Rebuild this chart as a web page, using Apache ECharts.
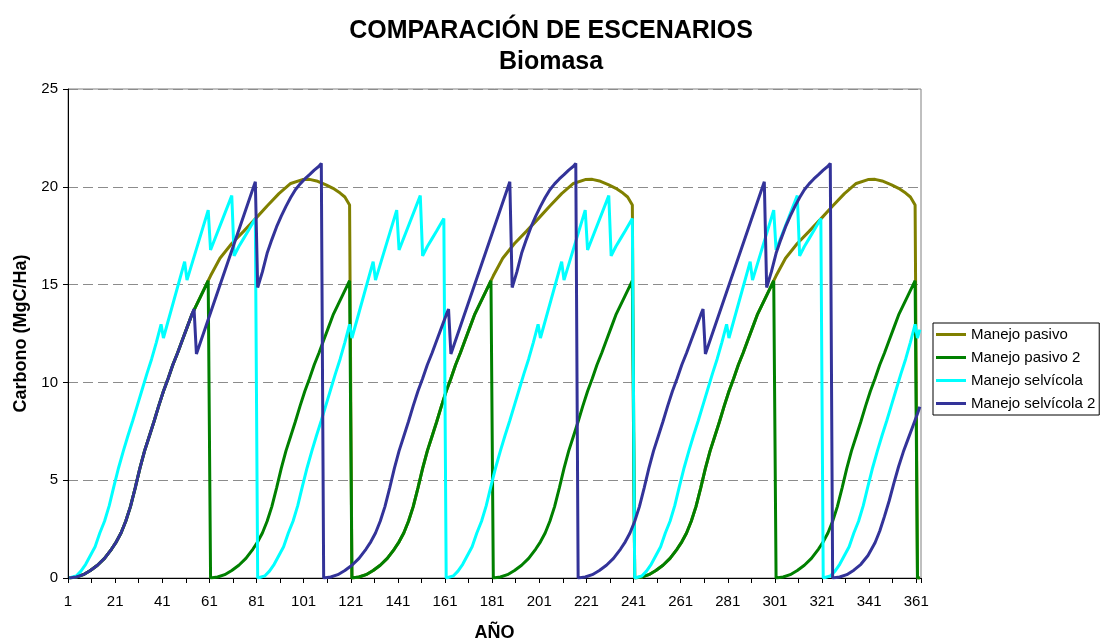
<!DOCTYPE html>
<html>
<head>
<meta charset="utf-8">
<script src="https://cdn.jsdelivr.net/npm/echarts@6/dist/echarts.min.js"></script>
<style>
  html, body { margin: 0; padding: 0; background: #fff; }
  #chart { width: 1102px; height: 640px; }
</style>
</head>
<body>
<div id="chart"></div>
<script>
const FONT = '"Liberation Sans", Arial, sans-serif';

// [año, carbono]
const pasivo = [
  [1,0],[4,0.05],[7,0.17],[10,0.38],[13,0.65],[16,1.0],[19,1.48],[21,1.85],[23,2.3],[25,2.9],[27,3.65],[29,4.6],[31,5.6],[33,6.5],[35,7.25],[37,8.0],[39,8.8],[41,9.55],[43,10.2],[45,10.9],[47,11.5],[49,12.15],[51,12.8],[53,13.45],[55,13.95],[57,14.45],[59,14.95],[60,15.2],
  [61,15.45],[65,16.35],[70,17.1],[75,17.72],[80,18.36],[85,19.02],[90,19.65],[95,20.17],[100,20.37],[103,20.38],[106,20.3],[110,20.1],[113,19.92],[116,19.68],[118,19.48],[120,19.07],
  [121,0],[124,0.05],[127,0.17],[130,0.38],[133,0.65],[136,1.0],[139,1.48],[141,1.85],[143,2.3],[145,2.9],[147,3.65],[149,4.6],[151,5.6],[153,6.5],[155,7.25],[157,8.0],[159,8.8],[161,9.55],[163,10.2],[165,10.9],[167,11.5],[169,12.15],[171,12.8],[173,13.45],[175,13.95],[177,14.45],[179,14.95],[180,15.2],
  [181,15.45],[185,16.35],[190,17.1],[195,17.72],[200,18.36],[205,19.02],[210,19.65],[215,20.17],[220,20.37],[223,20.38],[226,20.3],[230,20.1],[233,19.92],[236,19.68],[238,19.48],[240,19.07],
  [241,0],[244,0.05],[247,0.17],[250,0.38],[253,0.65],[256,1.0],[259,1.48],[261,1.85],[263,2.3],[265,2.9],[267,3.65],[269,4.6],[271,5.6],[273,6.5],[275,7.25],[277,8.0],[279,8.8],[281,9.55],[283,10.2],[285,10.9],[287,11.5],[289,12.15],[291,12.8],[293,13.45],[295,13.95],[297,14.45],[299,14.95],[300,15.2],
  [301,15.45],[305,16.35],[310,17.1],[315,17.72],[320,18.36],[325,19.02],[330,19.65],[335,20.17],[340,20.37],[343,20.38],[346,20.3],[350,20.1],[353,19.92],[356,19.68],[358,19.48],[360,19.07],
  [361,0],[362,0]
];

const pasivo2 = [
  [1,0],[4,0.05],[7,0.17],[10,0.38],[13,0.65],[16,1.0],[19,1.48],[21,1.85],[23,2.3],[25,2.9],[27,3.65],[29,4.6],[31,5.6],[33,6.5],[35,7.25],[37,8.0],[39,8.8],[41,9.55],[43,10.2],[45,10.9],[47,11.5],[49,12.15],[51,12.8],[53,13.45],[55,13.95],[57,14.45],[59,14.95],[60,15.2],
  [61,0],[64,0.05],[67,0.17],[70,0.38],[73,0.65],[76,1.0],[79,1.48],[81,1.85],[83,2.3],[85,2.9],[87,3.65],[89,4.6],[91,5.6],[93,6.5],[95,7.25],[97,8.0],[99,8.8],[101,9.55],[103,10.2],[105,10.9],[107,11.5],[109,12.15],[111,12.8],[113,13.45],[115,13.95],[117,14.45],[119,14.95],[120,15.2],
  [121,0],[124,0.05],[127,0.17],[130,0.38],[133,0.65],[136,1.0],[139,1.48],[141,1.85],[143,2.3],[145,2.9],[147,3.65],[149,4.6],[151,5.6],[153,6.5],[155,7.25],[157,8.0],[159,8.8],[161,9.55],[163,10.2],[165,10.9],[167,11.5],[169,12.15],[171,12.8],[173,13.45],[175,13.95],[177,14.45],[179,14.95],[180,15.2],
  [181,0],[184,0.05],[187,0.17],[190,0.38],[193,0.65],[196,1.0],[199,1.48],[201,1.85],[203,2.3],[205,2.9],[207,3.65],[209,4.6],[211,5.6],[213,6.5],[215,7.25],[217,8.0],[219,8.8],[221,9.55],[223,10.2],[225,10.9],[227,11.5],[229,12.15],[231,12.8],[233,13.45],[235,13.95],[237,14.45],[239,14.95],[240,15.2],
  [241,0],[244,0.05],[247,0.17],[250,0.38],[253,0.65],[256,1.0],[259,1.48],[261,1.85],[263,2.3],[265,2.9],[267,3.65],[269,4.6],[271,5.6],[273,6.5],[275,7.25],[277,8.0],[279,8.8],[281,9.55],[283,10.2],[285,10.9],[287,11.5],[289,12.15],[291,12.8],[293,13.45],[295,13.95],[297,14.45],[299,14.95],[300,15.2],
  [301,0],[304,0.05],[307,0.17],[310,0.38],[313,0.65],[316,1.0],[319,1.48],[321,1.85],[323,2.3],[325,2.9],[327,3.65],[329,4.6],[331,5.6],[333,6.5],[335,7.25],[337,8.0],[339,8.8],[341,9.55],[343,10.2],[345,10.9],[347,11.5],[349,12.15],[351,12.8],[353,13.45],[355,13.95],[357,14.45],[359,14.95],[360,15.2],
  [361,0],[362,0]
];

const selvicola = [
  [1,0],[4,0.1],[6,0.35],[8,0.7],[10,1.15],[12,1.6],[14,2.3],[16,2.9],[18,3.7],[20,4.7],[22,5.65],[24,6.5],[26,7.3],[28,8.05],[30,8.85],[32,9.65],[34,10.45],[36,11.2],[38,12.05],[40,12.97],[41,12.27],[50,16.17],[51,15.23],[60,18.81],[61,16.77],[70,19.55],[71,16.47],[73,16.95],[75,17.35],[77,17.75],[80,18.38],
  [81,0],[84,0.1],[86,0.35],[88,0.7],[90,1.15],[92,1.6],[94,2.3],[96,2.9],[98,3.7],[100,4.7],[102,5.65],[104,6.5],[106,7.3],[108,8.05],[110,8.85],[112,9.65],[114,10.45],[116,11.2],[118,12.05],[120,12.97],[121,12.27],[130,16.17],[131,15.23],[140,18.81],[141,16.77],[150,19.55],[151,16.47],[153,16.95],[155,17.35],[157,17.75],[160,18.38],
  [161,0],[164,0.1],[166,0.35],[168,0.7],[170,1.15],[172,1.6],[174,2.3],[176,2.9],[178,3.7],[180,4.7],[182,5.65],[184,6.5],[186,7.3],[188,8.05],[190,8.85],[192,9.65],[194,10.45],[196,11.2],[198,12.05],[200,12.97],[201,12.27],[210,16.17],[211,15.23],[220,18.81],[221,16.77],[230,19.55],[231,16.47],[233,16.95],[235,17.35],[237,17.75],[240,18.38],
  [241,0],[244,0.1],[246,0.35],[248,0.7],[250,1.15],[252,1.6],[254,2.3],[256,2.9],[258,3.7],[260,4.7],[262,5.65],[264,6.5],[266,7.3],[268,8.05],[270,8.85],[272,9.65],[274,10.45],[276,11.2],[278,12.05],[280,12.97],[281,12.27],[290,16.17],[291,15.23],[300,18.81],[301,16.77],[310,19.55],[311,16.47],[313,16.95],[315,17.35],[317,17.75],[320,18.38],
  [321,0],[324,0.1],[326,0.35],[328,0.7],[330,1.15],[332,1.6],[334,2.3],[336,2.9],[338,3.7],[340,4.7],[342,5.65],[344,6.5],[346,7.3],[348,8.05],[350,8.85],[352,9.65],[354,10.45],[356,11.2],[358,12.05],[360,12.97],[361,12.27],[362,12.7]
];

const selvicola2 = [
  [1,0],[4,0.05],[7,0.17],[10,0.38],[13,0.65],[16,1.0],[19,1.48],[21,1.85],[23,2.3],[25,2.9],[27,3.65],[29,4.6],[31,5.6],[33,6.5],[35,7.25],[37,8.0],[39,8.8],[41,9.55],[43,10.2],[45,10.9],[47,11.5],[49,12.15],[51,12.8],[53,13.45],[54,13.75],[55,11.45],[80,20.26],[81,14.85],[83,15.65],[85,16.6],[87,17.3],[89,17.95],[91,18.5],[93,19.0],[95,19.45],[97,19.85],[99,20.15],[101,20.4],[103,20.62],[105,20.85],[107,21.05],[108,21.2],
  [109,0],[112,0.05],[115,0.17],[118,0.38],[121,0.65],[124,1.0],[127,1.48],[129,1.85],[131,2.3],[133,2.9],[135,3.65],[137,4.6],[139,5.6],[141,6.5],[143,7.25],[145,8.0],[147,8.8],[149,9.55],[151,10.2],[153,10.9],[155,11.5],[157,12.15],[159,12.8],[161,13.45],[162,13.75],[163,11.45],[188,20.26],[189,14.85],[191,15.65],[193,16.6],[195,17.3],[197,17.95],[199,18.5],[201,19.0],[203,19.45],[205,19.85],[207,20.15],[209,20.4],[211,20.62],[213,20.85],[215,21.05],[216,21.2],
  [217,0],[220,0.05],[223,0.17],[226,0.38],[229,0.65],[232,1.0],[235,1.48],[237,1.85],[239,2.3],[241,2.9],[243,3.65],[245,4.6],[247,5.6],[249,6.5],[251,7.25],[253,8.0],[255,8.8],[257,9.55],[259,10.2],[261,10.9],[263,11.5],[265,12.15],[267,12.8],[269,13.45],[270,13.75],[271,11.45],[296,20.26],[297,14.85],[299,15.65],[301,16.6],[303,17.3],[305,17.95],[307,18.5],[309,19.0],[311,19.45],[313,19.85],[315,20.15],[317,20.4],[319,20.62],[321,20.85],[323,21.05],[324,21.2],
  [325,0],[328,0.05],[331,0.17],[334,0.4],[337,0.7],[340,1.15],[343,1.8],[345,2.4],[347,3.15],[349,3.95],[351,4.85],[353,5.7],[355,6.45],[357,7.1],[359,7.75],[361,8.4],[362,8.75]
];

const seriesNames = ['Manejo pasivo', 'Manejo pasivo 2', 'Manejo selvícola', 'Manejo selvícola 2'];
const seriesColors = ['#808000', '#008000', '#00FFFF', '#333399'];
const seriesData = [pasivo, pasivo2, selvicola, selvicola2];

const chart = echarts.init(document.getElementById('chart'), null, { renderer: 'canvas' });

chart.setOption({
  animation: false,
  backgroundColor: '#fff',
  textStyle: { fontFamily: FONT },
  title: {
    text: 'COMPARACIÓN DE ESCENARIOS\nBiomasa',
    left: 'center',
    top: 11,
    textStyle: { fontFamily: FONT, fontSize: 25, fontWeight: 'bold', color: '#000', lineHeight: 31 }
  },
  legend: {
    orient: 'vertical',
    left: 933,
    top: 323,
    icon: 'rect',
    itemWidth: 30,
    itemHeight: 3,
    itemGap: 8,
    padding: [4, 4, 4, 3],
    borderColor: '#000',
    borderWidth: 1,
    textStyle: { fontFamily: FONT, fontSize: 15, color: '#000', lineHeight: 15 },
    data: seriesNames
  },
  grid: {
    left: 68, right: 181, top: 89, bottom: 62,
    outerBoundsMode: 'none',
    containLabel: false,
    show: true, borderColor: '#808080', borderWidth: 1
  },
  xAxis: {
    type: 'value',
    min: 0, max: 362, interval: 10,
    name: 'AÑO',
    nameLocation: 'middle',
    nameGap: 46,
    nameTextStyle: { fontFamily: FONT, fontSize: 18, fontWeight: 'bold', color: '#000' },
    axisLine: { show: true, lineStyle: { color: '#000', width: 1 } },
    axisTick: { show: true, inside: false, length: 5, lineStyle: { color: '#000' } },
    axisLabel: {
      fontFamily: FONT, fontSize: 15, color: '#000', margin: 16,
      formatter: v => (v % 20 === 0 && v <= 360 ? String(v + 1) : '')
    },
    splitLine: { show: false }
  },
  yAxis: {
    type: 'value',
    min: 0, max: 25, interval: 5,
    name: 'Carbono (MgC/Ha)',
    nameLocation: 'middle',
    nameRotate: 90,
    nameGap: 37,
    nameTextStyle: { fontFamily: FONT, fontSize: 18, fontWeight: 'bold', color: '#000' },
    axisLine: { show: true, lineStyle: { color: '#000', width: 1 } },
    axisTick: { show: true, inside: false, length: 5, lineStyle: { color: '#000' } },
    axisLabel: { fontFamily: FONT, fontSize: 15, color: '#000', margin: 10 },
    splitLine: { show: true, lineStyle: { color: '#8c8c8c', type: [10, 5], width: 1 } }
  },
  series: seriesData.map((arr, i) => ({
    name: seriesNames[i],
    type: 'line',
    symbol: 'none',
    showSymbol: false,
    color: seriesColors[i],
    lineStyle: { width: 3, color: seriesColors[i] },
    itemStyle: { color: seriesColors[i] },
    data: arr.map(([year, c]) => [year - 0.5, c])
  }))
});
</script>
</body>
</html>
